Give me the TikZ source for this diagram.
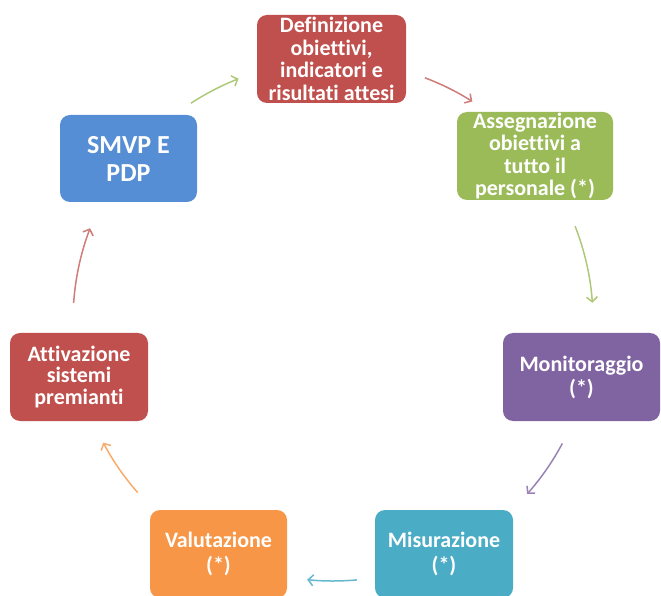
\documentclass[tikz,border=0pt]{standalone}
\usepackage{fontspec}
\setmainfont{Carlito}[Ligatures=NoCommon]
\usetikzlibrary{arrows.meta,calc}

% box fills
\definecolor{cred}{HTML}{C0504D}
\definecolor{cgreen}{HTML}{9BBB59}
\definecolor{cblue}{HTML}{558ED5}
\definecolor{cpurple}{HTML}{8064A2}
\definecolor{cteal}{HTML}{4BACC6}
\definecolor{corange}{HTML}{F79646}
% lighter tints for the cycle arrows
\colorlet{arrred}{cred!75!white}
\colorlet{arrgreen}{cgreen!80!white}
\colorlet{arrpurple}{cpurple!80!white}
\colorlet{arrteal}{cteal!85!white}
\colorlet{arrorange}{corange!80!white}

\begin{document}
\begin{tikzpicture}[x=1pt,y=1pt,
  stage/.style={rounded corners=10pt, text=white, align=center, inner sep=0pt,
    font=\bfseries\fontsize{22}{22.5}\selectfont},
  cyc/.style={line width=1.5pt, -{Straight Barb[length=5pt,width=11pt]}}]
\useasboundingbox (0,0) rectangle (661,595);

% the seven stages of the cycle
\node[stage, fill=cred, minimum width=149pt, minimum height=88pt] (def) at (331.5,536)
  {Definizione\\obiettivi,\\indicatori e\\risultati attesi};
\node[stage, fill=cgreen, minimum width=156pt, minimum height=88pt] (ass) at (535,439)
  {Assegnazione\\obiettivi a\\tutto il\\personale (*)};
\node[stage, fill=cpurple, minimum width=157pt, minimum height=88pt,
  font=\bfseries\fontsize{22}{24}\selectfont] (mon) at (581.5,218)
  {Monitoraggio\\(*)};
\node[stage, fill=cteal, minimum width=138pt, minimum height=88pt,
  font=\bfseries\fontsize{22}{25}\selectfont] (mis) at (444,41)
  {Misurazione\\(*)};
\node[stage, fill=corange, minimum width=137pt, minimum height=88pt,
  font=\bfseries\fontsize{22}{25}\selectfont] (val) at (218.5,41)
  {Valutazione\\(*)};
\node[stage, fill=cred, minimum width=138pt, minimum height=88pt,
  font=\bfseries\fontsize{22}{21.5}\selectfont] (att) at (79,218)
  {Attivazione\\sistemi\\premianti};
\node[stage, fill=cblue, minimum width=137pt, minimum height=87pt,
  font=\bfseries\fontsize{26}{28}\selectfont] (smvp) at (128.5,436.5)
  {SMVP E\\PDP};

% arrows run along a common circle between the stages
\coordinate (c) at (333,274);
\foreach \nm/\col/\a/\b in {a1/arrgreen/123.1/111.3, a2/arrred/69.3/57.6,
    a3/arrgreen/21.4/4.0, a4/arrpurple/-28.1/-41.7, a5/arrteal/-84.7/-95.7,
    a6/arrorange/-138.7/-152.1, a7/arrred/176/159.1}{
  \coordinate (\nm) at ($(c)+(\a:260)$);
  \draw[cyc,\col] (\nm) arc[start angle=\a, end angle=\b, radius=260];
}
\end{tikzpicture}
\end{document}
